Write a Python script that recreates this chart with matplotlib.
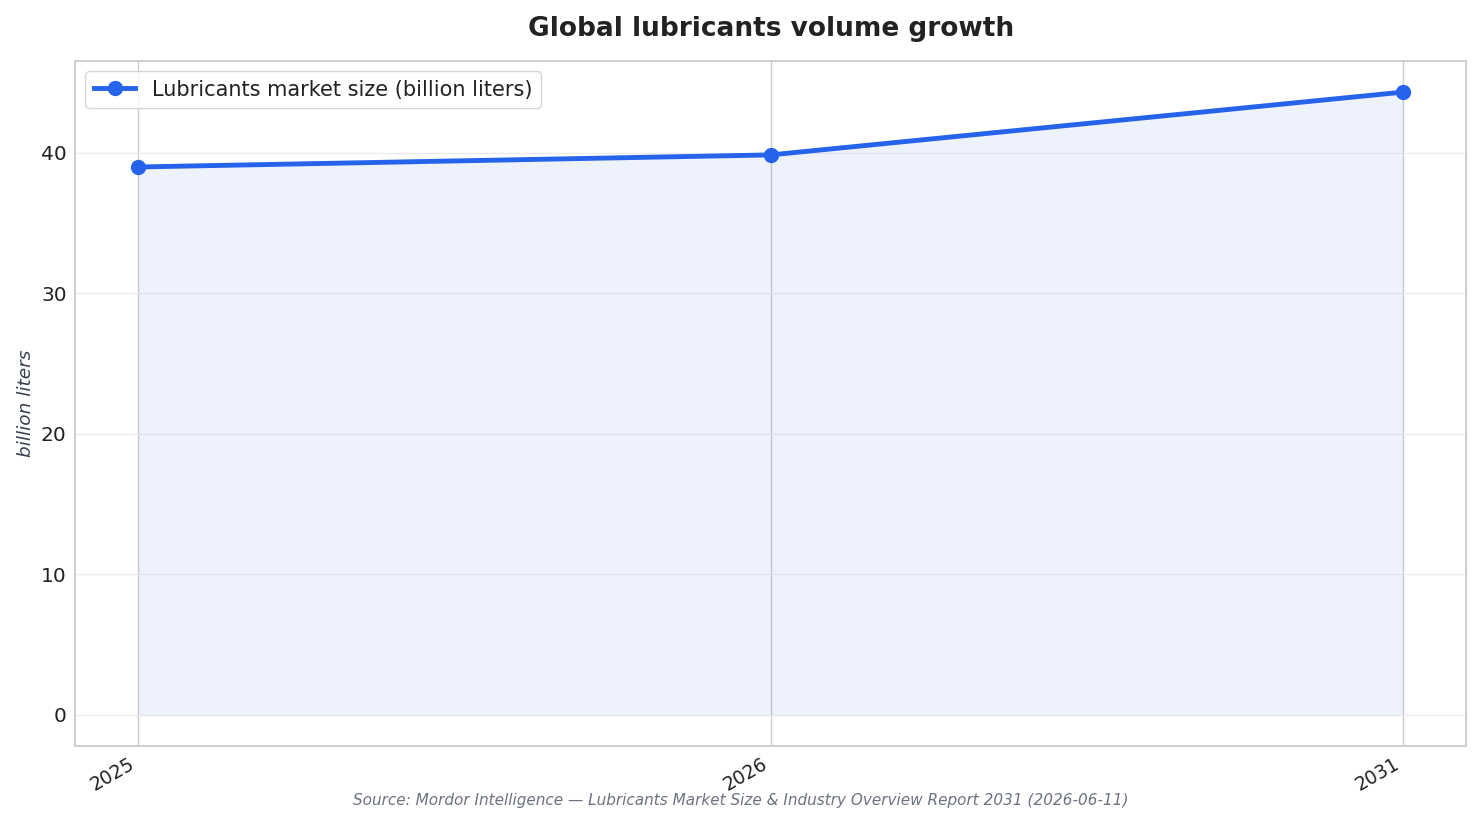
import matplotlib
matplotlib.use("Agg")
import matplotlib.pyplot as plt

years = ["2025", "2026", "2031"]
market_size = [39.0, 39.86, 44.33]

line_color = "#2563eb"

fig, ax = plt.subplots(figsize=(14.81, 8.24), dpi=100)
fig.subplots_adjust(left=0.0506, right=0.99, top=0.926, bottom=0.0947)

x = list(range(len(years)))
ax.fill_between(x, market_size, 0, color=line_color, alpha=0.08, linewidth=0)
ax.plot(x, market_size, color=line_color, linewidth=3.5, marker="o", markersize=10,
        label="Lubricants market size (billion liters)", zorder=3)

ax.set_xticks(x)
ax.set_xticklabels(years, rotation=30, ha="right", fontsize=13.5, color="#222222")
ax.tick_params(axis="y", labelsize=14.5, labelcolor="#222222")
ax.tick_params(length=0, pad=6)
ax.set_yticks([0, 10, 20, 30, 40])

ax.grid(axis="y", color="#ebebeb", linewidth=1)
ax.grid(axis="x", color="#cccccc", linewidth=1)
ax.set_axisbelow(True)
for s in ax.spines.values():
    s.set_color("#cccccc")
    s.set_linewidth(1.3)

ax.set_ylabel("billion liters", fontsize=13.3, style="italic", color="#374151", labelpad=4)
ax.set_title("Global lubricants volume growth", fontsize=19, fontweight="bold",
             color="#222222", pad=18)
ax.legend(loc="upper left", fontsize=15, frameon=True, edgecolor="#cccccc",
          fancybox=True, labelcolor="#222222")

fig.text(0.5, 0.028, "Source: Mordor Intelligence \u2014 Lubricants Market Size & Industry Overview Report 2031 (2026-06-11)",
         ha="center", va="center", fontsize=11, style="italic", color="#6b7280")

plt.savefig("out.png", dpi=100)
